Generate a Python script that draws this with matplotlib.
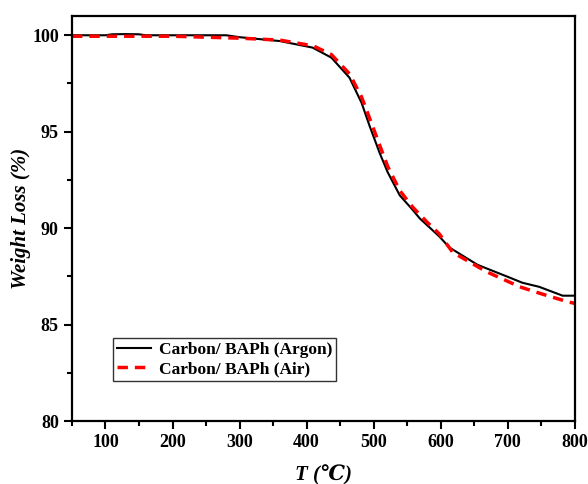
import matplotlib
matplotlib.use("Agg")
import matplotlib.pyplot as plt
from matplotlib.ticker import MultipleLocator

plt.rcParams['font.family'] = ['Liberation Serif', 'DejaVu Serif']
plt.rcParams['font.weight'] = 'bold'

# Carbon/ BAPh under argon
t_argon = [50, 100, 110, 130, 150, 160, 200, 280, 300, 360, 409, 437, 464, 482,
           494, 509, 521, 539, 558, 569, 598, 613, 655, 700, 722, 747, 782, 800]
w_argon = [100.0, 100.0, 100.05, 100.06, 100.05, 100.0, 100.0, 100.0, 99.9, 99.7,
           99.36, 98.84, 97.8, 96.5, 95.3, 93.9, 92.9, 91.7, 90.96, 90.5, 89.57,
           89.0, 88.1, 87.48, 87.17, 86.96, 86.5, 86.5]

# Carbon/ BAPh under air
t_air = [50, 100, 200, 300, 360, 410, 437, 464, 482, 494, 509, 521, 539, 558,
         580, 598, 618, 668, 718, 750, 788, 800]
w_air = [99.95, 99.95, 99.95, 99.85, 99.75, 99.45, 99.0, 98.0, 96.8, 95.7, 94.3,
         93.2, 91.95, 91.1, 90.3, 89.7, 88.75, 87.75, 86.96, 86.6, 86.2, 86.1]

fig = plt.figure(figsize=(5.88, 4.84), dpi=100)
ax = fig.add_axes([0.1224, 0.130, 0.855, 0.837])

ax.plot(t_argon, w_argon, color='black', lw=1.5, label='Carbon/ BAPh (Argon)')
ax.plot(t_air, w_air, color='red', lw=2.5, ls=(0, (3, 2)), label='Carbon/ BAPh (Air)')

ax.set_xlim(50, 800)
ax.set_ylim(80, 101)
ax.xaxis.set_major_locator(MultipleLocator(100))
ax.xaxis.set_minor_locator(MultipleLocator(50))
ax.yaxis.set_major_locator(MultipleLocator(5))
ax.yaxis.set_minor_locator(MultipleLocator(2.5))
ax.tick_params(which='major', direction='out', length=6, width=1.5, labelsize=13)
ax.tick_params(which='minor', direction='out', length=3.5, width=1.5)
for s in ax.spines.values():
    s.set_linewidth(1.6)

ax.set_xlabel('T (℃)', fontsize=15, fontweight='bold', fontstyle='italic', labelpad=10)
ax.set_ylabel('Weight Loss (%)', fontsize=15, fontweight='bold', fontstyle='italic', labelpad=1)

leg = ax.legend(loc='lower left', bbox_to_anchor=(0.082, 0.099), fontsize=12.5,
                frameon=True, fancybox=False, handlelength=2.0, borderpad=0.2,
                labelspacing=0.2, borderaxespad=0, handletextpad=0.45)
leg.get_frame().set_edgecolor('black')
leg.get_frame().set_linewidth(1.0)

fig.savefig('out.png', dpi=100)
